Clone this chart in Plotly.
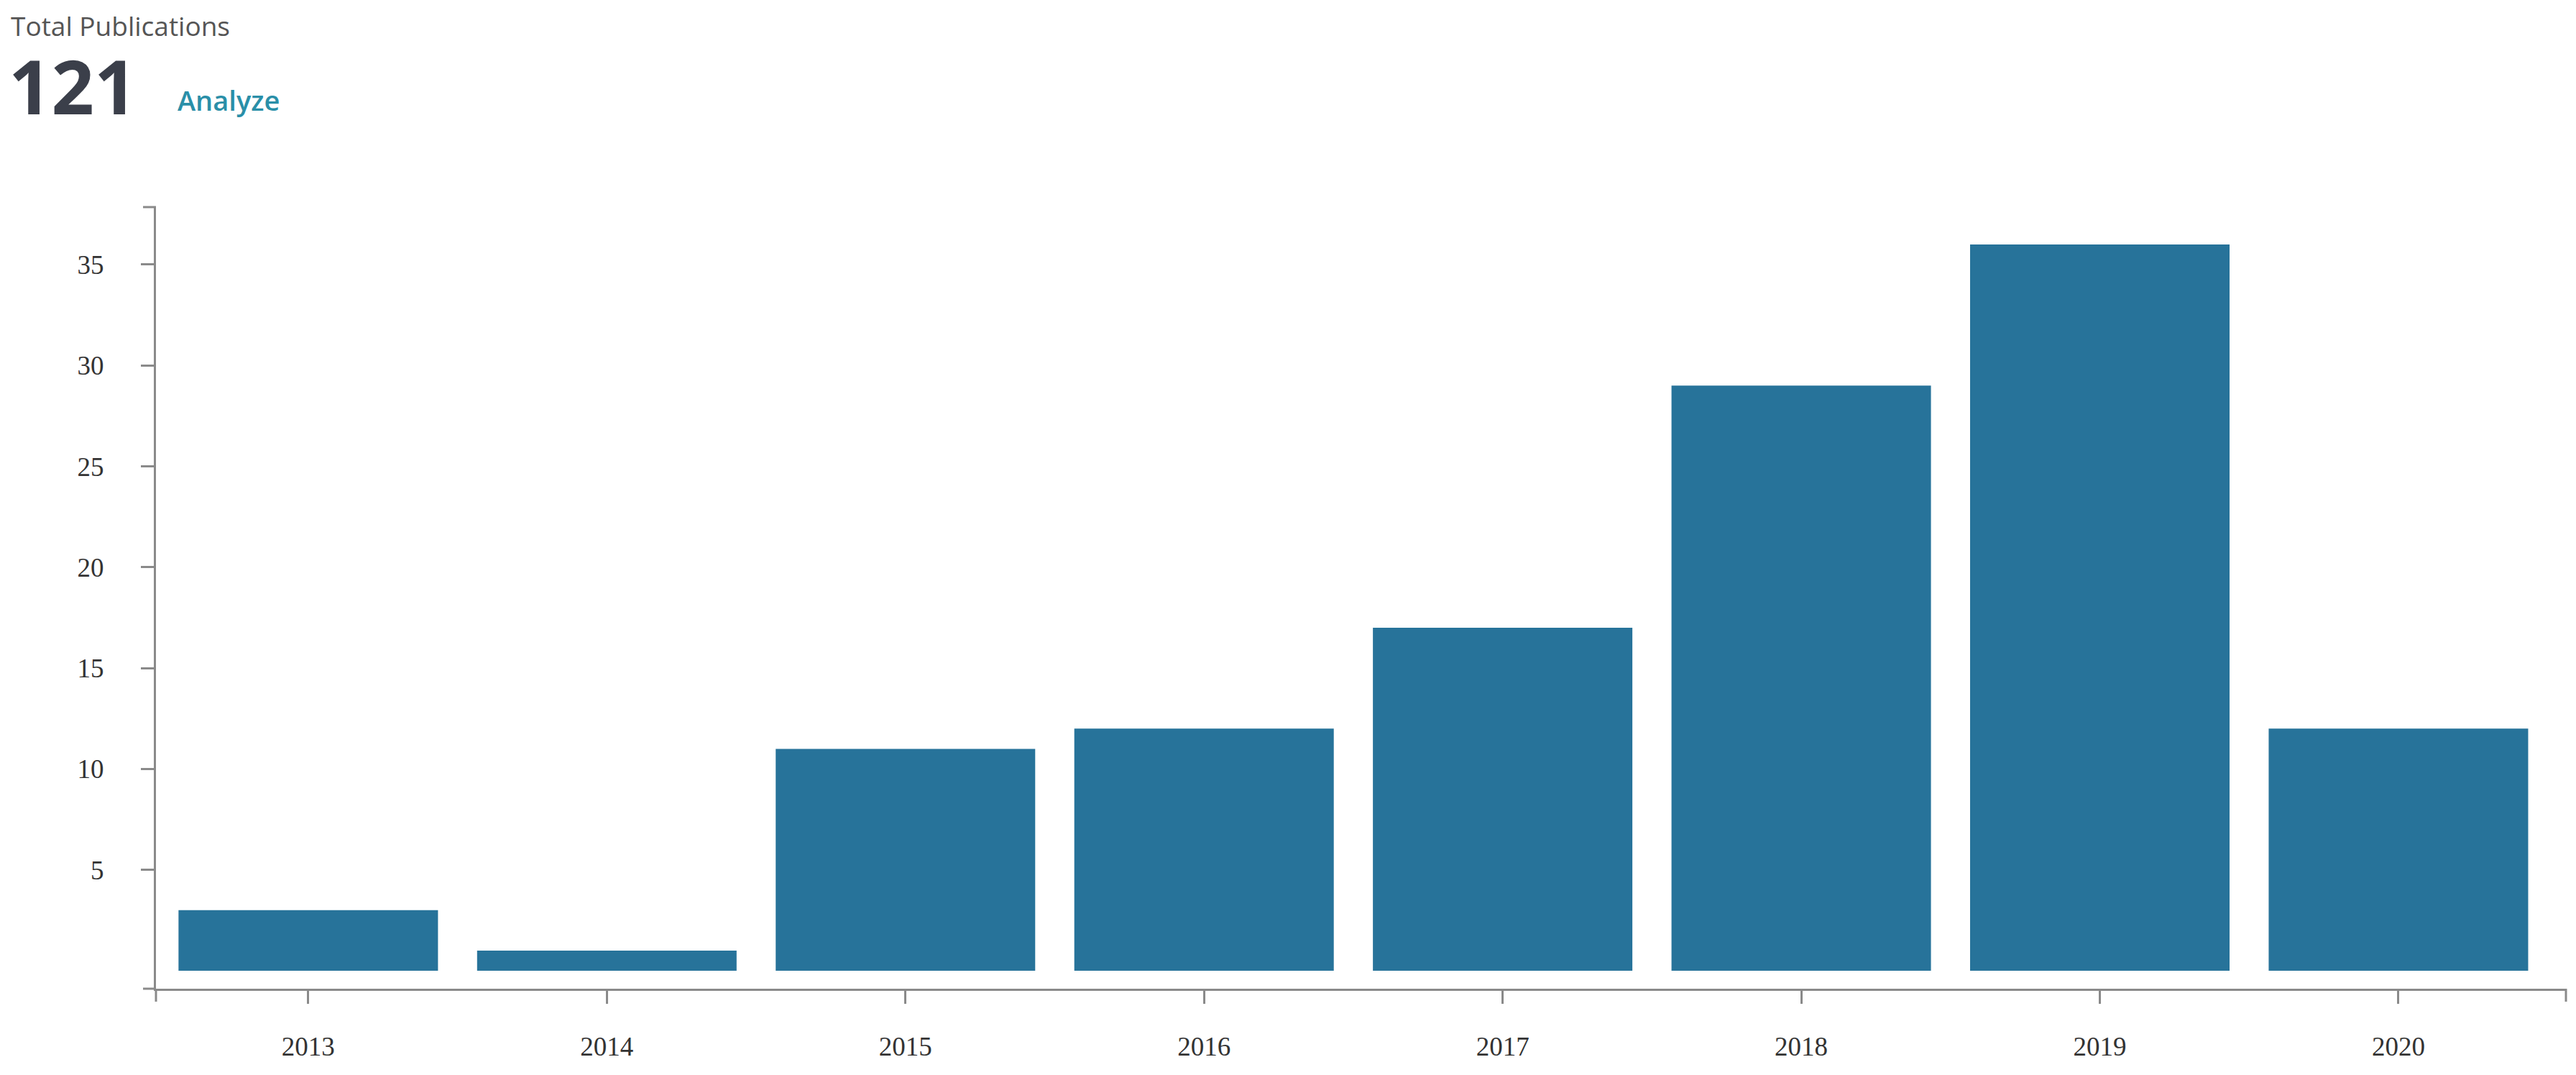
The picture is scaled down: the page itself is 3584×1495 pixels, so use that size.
import plotly.graph_objects as go

years = ["2013", "2014", "2015", "2016", "2017", "2018", "2019", "2020"]
publications = [3, 1, 11, 12, 17, 29, 36, 12]
y_ticks = [5, 10, 15, 20, 25, 30, 35]
total_label = "121"
title_label = "Total Publications"
link_label = "Analyze"

BAR = "#27739a"
AXIS = "#8a8a8a"
TICKFONT = dict(family="Liberation Serif", size=37, color="#333333")
# the page body adds an 8px offset, compensated in the margins
ML, MT = 209, 280
TL = 18

fig = go.Figure(go.Bar(x=years, y=publications, marker=dict(color=BAR, line=dict(width=0)),
                       hoverinfo="x+y"))

fig.update_layout(
    width=3584, height=1495,
    margin=dict(l=ML, r=22, t=MT, b=128),
    paper_bgcolor="white", plot_bgcolor="white",
    bargap=0.131, showlegend=False,
    xaxis=dict(type="category", range=[-0.51, 7.561], showline=True, linecolor=AXIS, linewidth=3,
               ticks="outside", ticklen=TL, tickwidth=3, tickcolor=AXIS, showgrid=False,
               tickfont=TICKFONT, ticklabelstandoff=28, zeroline=False),
    yaxis=dict(range=[-0.89, 37.85], showline=True, linecolor=AXIS, linewidth=3,
               ticks="outside", ticklen=TL, tickwidth=3, tickcolor=AXIS, showgrid=False,
               tickvals=y_ticks, ticktext=[str(v) for v in y_ticks],
               tickfont=TICKFONT, ticklabelstandoff=44, zeroline=False),
    shapes=[
        # outer ticks at the domain ends
        dict(type="line", xref="paper", yref="paper", xsizemode="pixel", xanchor=0,
             x0=-TL, x1=0, y0=1, y1=1, line=dict(color=AXIS, width=3)),
        dict(type="line", xref="paper", yref="paper", xsizemode="pixel", xanchor=0,
             x0=-TL, x1=0, y0=0, y1=0, line=dict(color=AXIS, width=3)),
        dict(type="line", xref="paper", yref="paper", ysizemode="pixel", yanchor=0,
             x0=0, x1=0, y0=-TL, y1=0, line=dict(color=AXIS, width=3)),
        dict(type="line", xref="paper", yref="paper", ysizemode="pixel", yanchor=0,
             x0=1, x1=1, y0=-TL, y1=0, line=dict(color=AXIS, width=3)),
    ],
    annotations=[
        dict(text=title_label, xref="paper", yref="paper", x=0, y=1,
             xanchor="left", yanchor="bottom", showarrow=False,
             xshift=5 - ML, yshift=MT - 55,
             font=dict(family="Open Sans", size=37, color="#555555")),
        dict(text=total_label, xref="paper", yref="paper", x=0, y=1,
             xanchor="left", yanchor="bottom", showarrow=False,
             xshift=2 - ML, yshift=MT - 183,
             font=dict(family="Open Sans", size=104, color="#3b3f4a", weight=700)),
        dict(text=link_label, xref="paper", yref="paper", x=0, y=1,
             xanchor="left", yanchor="bottom", showarrow=False,
             xshift=237 - ML, yshift=MT - 159,
             font=dict(family="Open Sans", size=38, color="#2a8fa8", weight=600)),
    ],
)

fig.write_html("out.html")
